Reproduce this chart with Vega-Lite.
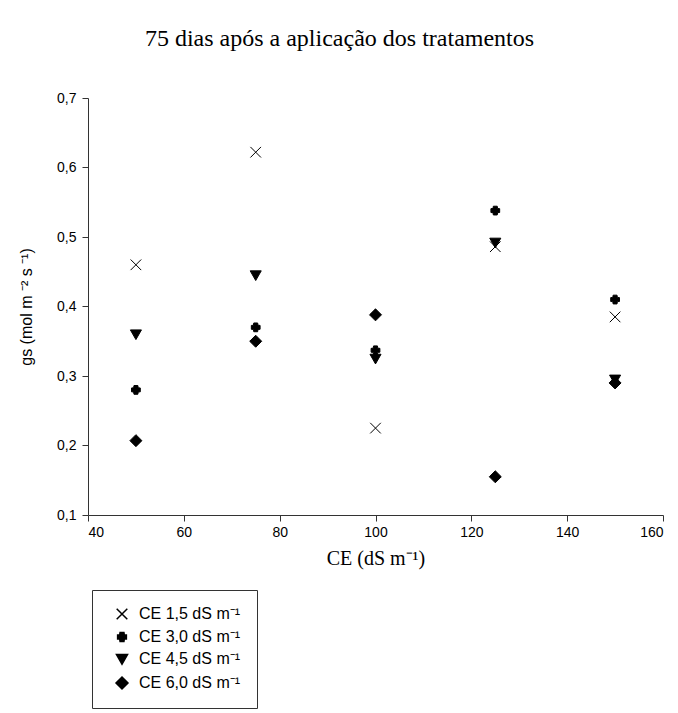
{
  "$schema": "https://vega.github.io/schema/vega-lite/v6.json",
  "width": 575,
  "height": 417,
  "autosize": {"type": "none"},
  "padding": {"left": 88, "top": 98, "right": 15, "bottom": 198},
  "background": "white",
  "title": {
    "text": "75 dias após a aplicação dos tratamentos",
    "font": "Liberation Serif",
    "fontSize": 24,
    "fontWeight": "normal",
    "color": "black",
    "anchor": "middle",
    "frame": "group",
    "dx": -36,
    "offset": 40
  },
  "data": {
    "values": [
      {"x": 50, "gs": 0.46, "serie": "CE 1,5 dS m⁻¹"},
      {"x": 75, "gs": 0.622, "serie": "CE 1,5 dS m⁻¹"},
      {"x": 100, "gs": 0.225, "serie": "CE 1,5 dS m⁻¹"},
      {"x": 125, "gs": 0.486, "serie": "CE 1,5 dS m⁻¹"},
      {"x": 150, "gs": 0.385, "serie": "CE 1,5 dS m⁻¹"},
      {"x": 50, "gs": 0.28, "serie": "CE 3,0 dS m⁻¹"},
      {"x": 75, "gs": 0.37, "serie": "CE 3,0 dS m⁻¹"},
      {"x": 100, "gs": 0.337, "serie": "CE 3,0 dS m⁻¹"},
      {"x": 125, "gs": 0.538, "serie": "CE 3,0 dS m⁻¹"},
      {"x": 150, "gs": 0.41, "serie": "CE 3,0 dS m⁻¹"},
      {"x": 50, "gs": 0.36, "serie": "CE 4,5 dS m⁻¹"},
      {"x": 75, "gs": 0.445, "serie": "CE 4,5 dS m⁻¹"},
      {"x": 100, "gs": 0.325, "serie": "CE 4,5 dS m⁻¹"},
      {"x": 125, "gs": 0.492, "serie": "CE 4,5 dS m⁻¹"},
      {"x": 150, "gs": 0.295, "serie": "CE 4,5 dS m⁻¹"},
      {"x": 50, "gs": 0.207, "serie": "CE 6,0 dS m⁻¹"},
      {"x": 75, "gs": 0.35, "serie": "CE 6,0 dS m⁻¹"},
      {"x": 100, "gs": 0.388, "serie": "CE 6,0 dS m⁻¹"},
      {"x": 125, "gs": 0.155, "serie": "CE 6,0 dS m⁻¹"},
      {"x": 150, "gs": 0.29, "serie": "CE 6,0 dS m⁻¹"}
    ]
  },
  "mark": {
    "type": "point",
    "filled": true,
    "color": "black",
    "stroke": "black",
    "strokeWidth": 1,
    "opacity": 1,
    "size": 85
  },
  "encoding": {
    "x": {
      "field": "x",
      "type": "quantitative",
      "scale": {"domain": [40, 160], "nice": false, "zero": false},
      "axis": {
        "values": [40, 60, 80, 100, 120, 140, 160],
        "title": "CE (dS m⁻¹)",
        "titleFont": "Liberation Serif",
        "titleFontSize": 20,
        "titleFontWeight": "normal",
        "titleColor": "black",
        "titlePadding": 9,
        "labelFont": "Liberation Sans",
        "labelFontSize": 14,
        "labelColor": "black",
        "labelPadding": 4,
        "tickSize": 6,
        "tickColor": "#333",
        "domainColor": "#333",
        "grid": false
      }
    },
    "y": {
      "field": "gs",
      "type": "quantitative",
      "scale": {"domain": [0.1, 0.7], "nice": false, "zero": false},
      "axis": {
        "values": [0.1, 0.2, 0.3, 0.4, 0.5, 0.6, 0.7],
        "labelExpr": "replace(format(datum.value, '.1f'), '.', ',')",
        "title": "gs (mol m ⁻² s ⁻¹)",
        "titleFont": "Liberation Sans",
        "titleFontSize": 16,
        "titleFontWeight": "normal",
        "titleColor": "black",
        "titlePadding": 22,
        "labelFont": "Liberation Sans",
        "labelFontSize": 14,
        "labelColor": "black",
        "labelPadding": 6,
        "tickSize": 6,
        "tickColor": "#333",
        "domainColor": "#333",
        "grid": false
      }
    },
    "shape": {
      "field": "serie",
      "type": "nominal",
      "scale": {
        "domain": ["CE 1,5 dS m⁻¹", "CE 3,0 dS m⁻¹", "CE 4,5 dS m⁻¹", "CE 6,0 dS m⁻¹"],
        "range": [
          "M-1.15,-1.15L1.15,1.15M1.15,-1.15L-1.15,1.15",
          "M-0.42,-0.95H0.42L0.5,-0.45L0.95,-0.42V0.42L0.5,0.45L0.42,0.95H-0.42L-0.5,0.45L-0.95,0.42V-0.42L-0.5,-0.45Z",
          "M-1.2,-0.95H1.2L0,1.15Z",
          "M0,-1.3L1.3,0L0,1.3L-1.3,0Z"
        ]
      },
      "legend": {
        "title": null,
        "orient": "none",
        "legendX": 4,
        "legendY": 492,
        "padding": 16,
        "strokeColor": "#333",
        "fillColor": "white",
        "labelFont": "Liberation Sans",
        "labelFontSize": 16,
        "labelColor": "black",
        "labelOffset": 9,
        "symbolSize": 85,
        "rowPadding": 6,
        "symbolOffset": 6,
        "encode": {
          "symbols": {
            "update": {
              "fill": {"value": "black"},
              "stroke": {"value": "black"},
              "strokeWidth": {"value": 1},
              "opacity": {"value": 1}
            }
          }
        }
      }
    }
  },
  "config": {"view": {"stroke": null}}
}
